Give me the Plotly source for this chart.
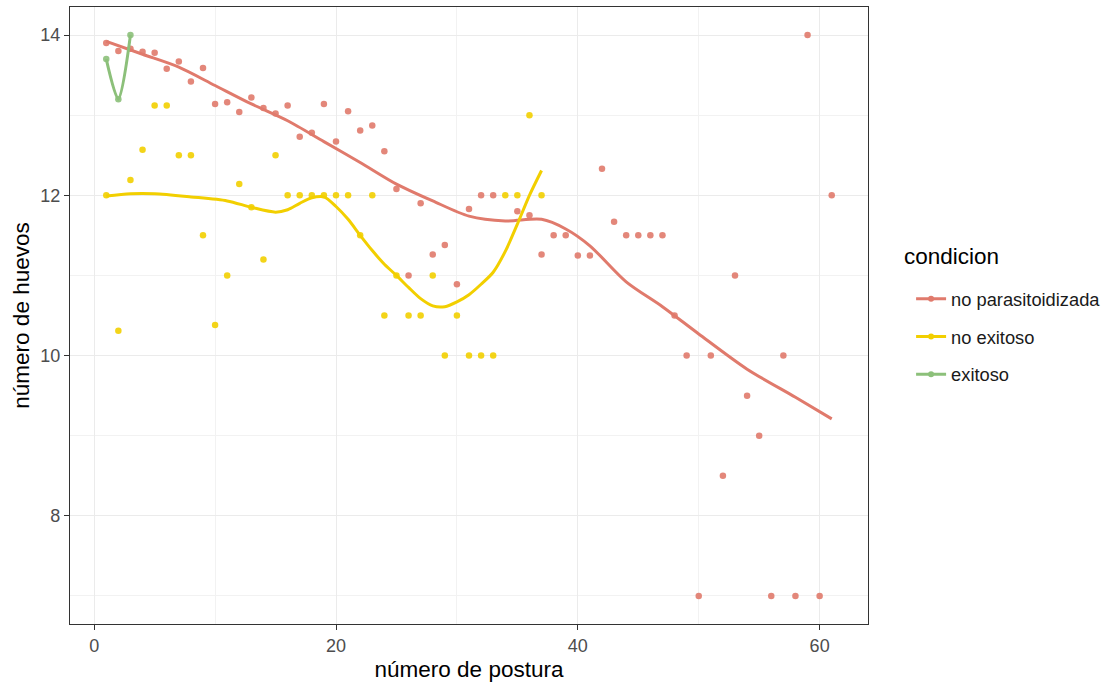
import plotly.graph_objects as go

# ---- data: points (mean number of eggs per laying number) ----
red_x = list(range(1, 34)) + list(range(35, 62))
red_y = [13.9, 13.8, 13.83, 13.79, 13.78, 13.58, 13.67, 13.42, 13.59, 13.14,
         13.16, 13.04, 13.22, 13.09, 13.02, 13.12, 12.73, 12.78, 13.14, 12.67,
         13.05, 12.81, 12.87, 12.55, 12.08, 11.0, 11.9, 11.26, 11.38, 10.89,
         11.83, 12.0, 12.0,
         11.8, 11.75, 11.26, 11.5, 11.5, 11.25, 11.25, 12.33, 11.67, 11.5,
         11.5, 11.5, 11.5, 10.5, 10.0, 7.0, 10.0, 8.5, 11.0, 9.5,
         9.0, 7.0, 10.0, 7.0, 14.0, 7.0, 12.0]

yel_x = list(range(1, 38))
yel_y = [12.0, 10.31, 12.19, 12.57, 13.12, 13.12, 12.5, 12.5, 11.5, 10.38,
         11.0, 12.14, 11.85, 11.2, 12.5, 12.0, 12.0, 12.0, 12.0, 12.0,
         12.0, 11.5, 12.0, 10.5, 11.0, 10.5, 10.5, 11.0, 10.0, 10.5,
         10.0, 10.0, 10.0, 12.0, 12.0, 13.0, 12.0]

grn_x = [1, 2, 3]
grn_y = [13.7, 13.2, 14.0]

# ---- smoothed (loess) curves ----
red_sx = [1, 4, 7, 10, 13, 16, 19, 22, 25, 28, 31, 34, 37, 39, 41, 44, 47, 50, 54, 58, 61]
red_sy = [13.92, 13.76, 13.60, 13.37, 13.14, 12.93, 12.67, 12.41, 12.14, 11.93, 11.74,
          11.68, 11.70, 11.58, 11.37, 10.92, 10.61, 10.27, 9.83, 9.48, 9.21]

yel_sx = [1, 3, 5, 8, 11, 13, 15, 16, 17, 18, 19, 20, 21, 22, 23, 24, 25, 26, 27,
          28, 29, 30, 31, 32, 33, 34, 35, 36, 37]
yel_sy = [11.99, 12.02, 12.02, 11.98, 11.93, 11.85, 11.79, 11.82, 11.90, 11.97, 11.98,
          11.86, 11.70, 11.50, 11.31, 11.14, 11.00, 10.85, 10.71, 10.62, 10.61, 10.67,
          10.76, 10.89, 11.04, 11.30, 11.64, 12.00, 12.31]

names = ["no parasitoidizada", "no exitoso", "exitoso"]
colors = ["#E07A6C", "#F2CF00", "#8CC07A"]

FONT = "Liberation Sans, Arial, sans-serif"
TITLE_SIZE = 22.5
TEXT_SIZE = 18

fig = go.Figure()

pts = [(red_x, red_y), (yel_x, yel_y), (grn_x, grn_y)]
for (xs, ys), c in zip(pts, colors):
    fig.add_trace(go.Scatter(x=xs, y=ys, mode="markers",
                             marker=dict(color=c, size=6.5, opacity=0.9),
                             showlegend=False, hoverinfo="x+y"))

curves = [(red_sx, red_sy), (yel_sx, yel_sy), (grn_x, grn_y)]
for (xs, ys), c in zip(curves, colors):
    fig.add_trace(go.Scatter(x=xs, y=ys, mode="lines",
                             line=dict(color=c, width=3, shape="spline", smoothing=0.8),
                             showlegend=False, hoverinfo="skip"))

for i, (n, c) in enumerate(zip(names, colors)):
    fig.add_trace(go.Scatter(x=[None], y=[None], mode="lines+markers", name=n,
                             line=dict(color=c, width=3),
                             marker=dict(color=c, size=6),
                             legendgroup=f"g{i}"))

fig.update_layout(
    width=1113, height=688,
    margin=dict(l=70, r=245, t=7, b=64, autoexpand=False),
    paper_bgcolor="white", plot_bgcolor="white",
    font=dict(family=FONT, color="#000000"),
    legend=dict(
        font=dict(size=18.3, color="#1a1a1a"),
        x=1.054, xanchor="left", y=0.557, yanchor="top",
        tracegroupgap=11, itemwidth=30,
        bgcolor="rgba(0,0,0,0)",
    ),
    annotations=[dict(text="condicion", xref="paper", yref="paper",
                      x=1.043, y=0.595, xanchor="left", yanchor="middle",
                      showarrow=False,
                      font=dict(size=TITLE_SIZE, color="#000000", family=FONT))],
)

fig.update_xaxes(
    range=[-2, 64], tickmode="linear", tick0=0, dtick=20,
    showgrid=True, gridcolor="#EBEBEB", gridwidth=1.2,
    minor=dict(tick0=0, dtick=10, showgrid=True, gridcolor="#F2F2F2", gridwidth=0.8),
    ticks="outside", ticklen=5, tickcolor="#333333", tickwidth=1,
    tickfont=dict(size=TEXT_SIZE, color="#4D4D4D", family=FONT),
    showline=True, linecolor="#333333", linewidth=1.2, mirror=True,
    zeroline=False,
    title=dict(text="número de postura", font=dict(size=TITLE_SIZE, color="#000000", family=FONT),
               standoff=6),
)
fig.update_yaxes(
    range=[6.65, 14.35], tickmode="linear", tick0=8, dtick=2,
    showgrid=True, gridcolor="#EBEBEB", gridwidth=1.2,
    minor=dict(tick0=7, dtick=1, showgrid=True, gridcolor="#F2F2F2", gridwidth=0.8),
    ticks="outside", ticklen=5, tickcolor="#333333", tickwidth=1,
    tickfont=dict(size=TEXT_SIZE, color="#4D4D4D", family=FONT),
    showline=True, linecolor="#333333", linewidth=1.2, mirror=True,
    zeroline=False,
    title=dict(text="número de huevos", font=dict(size=TITLE_SIZE, color="#000000", family=FONT),
               standoff=4),
)

fig.write_html("out.html")
